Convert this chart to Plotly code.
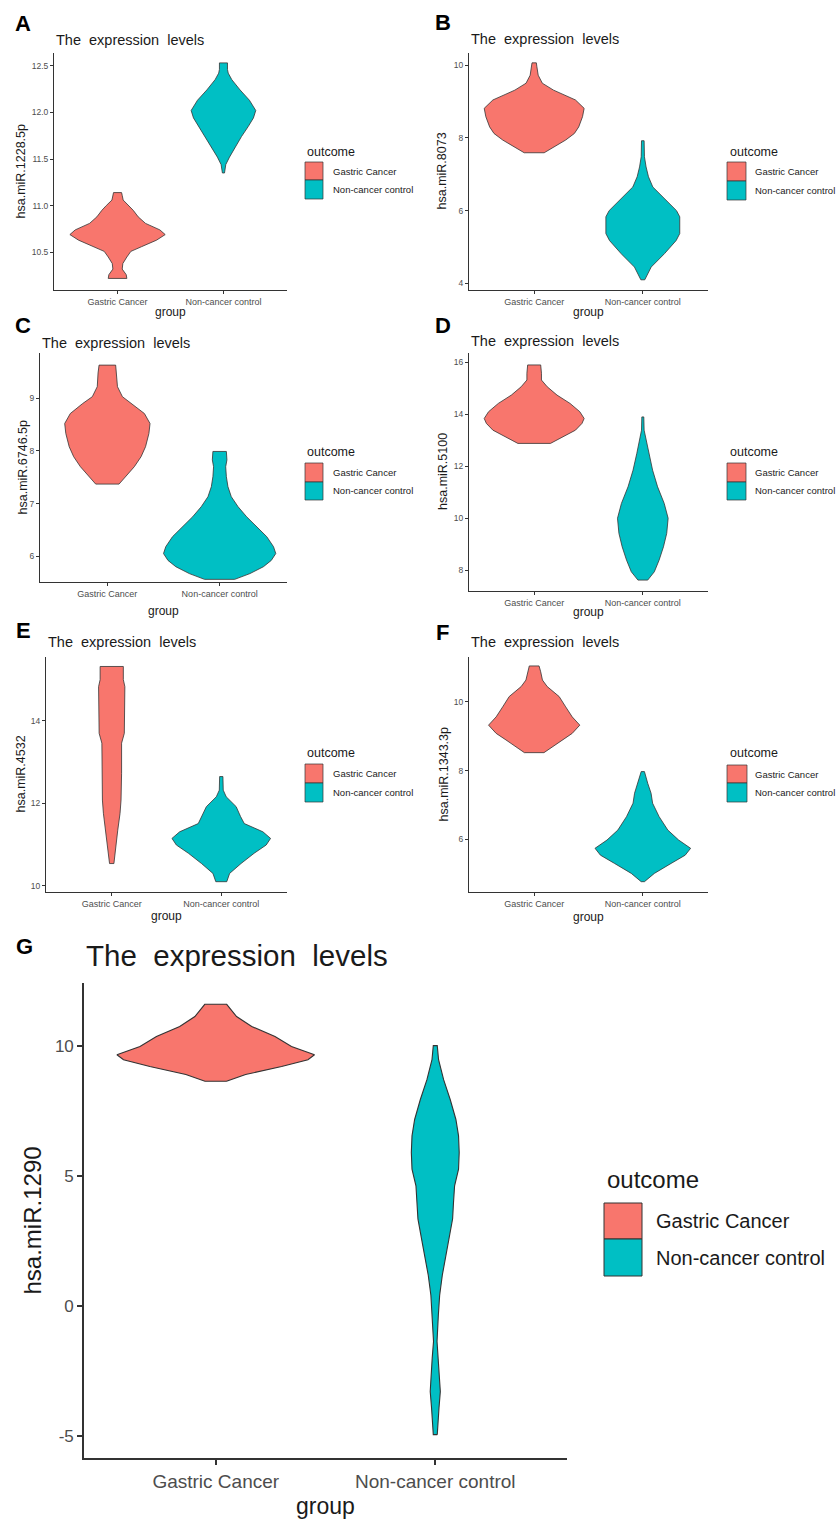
import plotly.graph_objects as go

# ---------------- data (violin density profiles) ----------------
groups = ["Gastric Cancer", "Non-cancer control"]
legend_title = "outcome"
plot_title = "The\u00a0\u00a0expression\u00a0\u00a0levels"

# Panel A  hsa.miR.1228.5p
A_gc_y = [10.22, 10.26, 10.32, 10.38, 10.45, 10.51, 10.56, 10.63, 10.69, 10.74, 10.81, 10.88, 10.95, 11.0, 11.06, 11.11, 11.14]
A_gc_w = [0.088, 0.082, 0.044, 0.05, 0.088, 0.126, 0.226, 0.368, 0.45, 0.40, 0.264, 0.195, 0.148, 0.107, 0.053, 0.044, 0.038]
A_nc_y = [11.35, 11.44, 11.52, 11.63, 11.74, 11.85, 11.94, 12.02, 12.13, 12.24, 12.35, 12.42, 12.46, 12.53]
A_nc_w = [0.01, 0.022, 0.057, 0.11, 0.17, 0.235, 0.283, 0.305, 0.245, 0.157, 0.079, 0.045, 0.038, 0.038]
# Panel B  hsa.miR.8073
B_gc_y = [7.59, 7.75, 7.94, 8.12, 8.30, 8.58, 8.81, 9.04, 9.2, 9.31, 9.5, 9.72, 9.95, 10.06]
B_gc_w = [0.092, 0.18, 0.29, 0.37, 0.41, 0.445, 0.46, 0.38, 0.26, 0.178, 0.075, 0.037, 0.025, 0.02]
B_nc_y = [4.1, 4.45, 4.82, 5.18, 5.37, 5.83, 6.0, 6.38, 6.65, 6.93, 7.2, 7.48, 7.75, 7.92]
B_nc_w = [0.018, 0.077, 0.2, 0.307, 0.34, 0.34, 0.31, 0.18, 0.092, 0.052, 0.03, 0.015, 0.012, 0.012]
# Panel C  hsa.miR.6746.5p
C_gc_y = [7.37, 7.51, 7.70, 7.89, 8.08, 8.33, 8.52, 8.71, 8.9, 9.03, 9.22, 9.48, 9.63]
C_gc_w = [0.104, 0.164, 0.24, 0.30, 0.34, 0.37, 0.38, 0.33, 0.22, 0.134, 0.09, 0.083, 0.074]
C_nc_y = [5.56, 5.67, 5.8, 5.92, 6.05, 6.18, 6.37, 6.56, 6.75, 6.94, 7.13, 7.32, 7.51, 7.7, 7.83, 7.99]
C_nc_w = [0.134, 0.27, 0.39, 0.46, 0.50, 0.48, 0.42, 0.33, 0.24, 0.164, 0.104, 0.074, 0.06, 0.054, 0.065, 0.06]
# Panel D  hsa.miR.5100
D_gc_y = [12.88, 13.14, 13.39, 13.65, 13.84, 14.1, 14.42, 14.74, 15.06, 15.32, 15.58, 15.9]
D_gc_w = [0.15, 0.27, 0.38, 0.44, 0.46, 0.42, 0.33, 0.21, 0.12, 0.067, 0.067, 0.06]
D_nc_y = [7.62, 7.94, 8.39, 8.9, 9.42, 10.0, 10.57, 11.21, 11.85, 12.5, 13.0, 13.39, 13.9]
D_nc_w = [0.045, 0.106, 0.15, 0.19, 0.22, 0.233, 0.197, 0.136, 0.09, 0.055, 0.03, 0.012, 0.009]
# Panel E  hsa.miR.4532
E_gc_y = [10.54, 10.95, 11.35, 11.76, 12.08, 12.73, 13.46, 13.7, 14.27, 14.83, 15.0, 15.32]
E_gc_w = [0.02, 0.036, 0.055, 0.076, 0.085, 0.09, 0.09, 0.115, 0.12, 0.12, 0.106, 0.106]
E_nc_y = [10.1, 10.3, 10.54, 10.79, 10.99, 11.15, 11.31, 11.51, 11.68, 11.92, 12.16, 12.32, 12.65]
E_nc_w = [0.05, 0.076, 0.18, 0.30, 0.41, 0.45, 0.38, 0.21, 0.176, 0.136, 0.045, 0.018, 0.015]
# Panel F  hsa.miR.1343.3p
F_gc_y = [8.52, 8.69, 8.89, 9.08, 9.32, 9.56, 9.85, 10.15, 10.44, 10.63, 10.87, 11.04]
F_gc_w = [0.09, 0.167, 0.26, 0.35, 0.42, 0.35, 0.29, 0.23, 0.12, 0.076, 0.06, 0.045]
F_nc_y = [4.77, 5.01, 5.3, 5.54, 5.74, 5.98, 6.27, 6.66, 7.05, 7.34, 7.63, 7.97]
F_nc_w = [0.015, 0.106, 0.26, 0.39, 0.44, 0.33, 0.23, 0.15, 0.09, 0.076, 0.045, 0.015]
# Panel G  hsa.miR.1290
G_gc_y = [8.66, 8.92, 9.23, 9.49, 9.68, 10.0, 10.38, 10.77, 11.15, 11.62]
G_gc_w = [0.049, 0.136, 0.30, 0.42, 0.45, 0.345, 0.27, 0.164, 0.095, 0.05]
G_nc_y = [-4.93, -4.54, -3.9, -3.27, -2.63, -1.99, -1.35, -0.33, 0.43, 1.2, 2.48, 3.37, 4.0, 4.64, 5.28, 5.92, 6.56, 7.19, 7.96, 8.72, 9.49, 10.03]
G_nc_w = [0.009, 0.011, 0.017, 0.023, 0.018, 0.014, 0.008, 0.014, 0.02, 0.032, 0.06, 0.079, 0.083, 0.088, 0.106, 0.109, 0.106, 0.094, 0.068, 0.038, 0.015, 0.009]

y_labels = {"A": "hsa.miR.1228.5p", "B": "hsa.miR.8073", "C": "hsa.miR.6746.5p",
            "D": "hsa.miR.5100", "E": "hsa.miR.4532", "F": "hsa.miR.1343.3p", "G": "hsa.miR.1290"}
y_ticks = {"A": [10.5, 11.0, 11.5, 12.0, 12.5], "B": [4, 6, 8, 10], "C": [6, 7, 8, 9],
           "D": [8, 10, 12, 14, 16], "E": [10, 12, 14], "F": [6, 8, 10], "G": [-5, 0, 5, 10]}
y_ranges = {"A": [10.096, 12.636], "B": [3.82, 10.33], "C": [5.51, 9.86], "D": [7.2, 16.36],
            "E": [9.85, 15.55], "F": [4.47, 11.3], "G": [-5.83, 12.44]}
profiles = {"A": (A_gc_y, A_gc_w, A_nc_y, A_nc_w), "B": (B_gc_y, B_gc_w, B_nc_y, B_nc_w),
            "C": (C_gc_y, C_gc_w, C_nc_y, C_nc_w), "D": (D_gc_y, D_gc_w, D_nc_y, D_nc_w),
            "E": (E_gc_y, E_gc_w, E_nc_y, E_nc_w), "F": (F_gc_y, F_gc_w, F_nc_y, F_nc_w),
            "G": (G_gc_y, G_gc_w, G_nc_y, G_nc_w)}

# ---------------- layout (pixel geometry of the page) ----------------
W, H = 840, 1521
colors = ["#F8766D", "#00BFC4"]
FONT = "Liberation Sans, Arial, sans-serif"

def px(x):
    return x / W

def py(y):
    return 1 - y / H

panels = {
    "A": (54, 287, 53, 290),
    "B": (469, 708, 53, 290),
    "C": (40, 287, 353, 582),
    "D": (469, 708, 353, 591),
    "E": (46, 287, 657, 892),
    "F": (469, 708, 657, 892),
    "G": (84, 567, 983, 1458),
}
letters = {"A": (23, 23), "B": (443, 22), "C": (23, 325), "D": (443, 325),
           "E": (23, 630), "F": (442, 632), "G": (24, 946)}
title_y = {"A": 40, "B": 39, "C": 343, "D": 341, "E": 642, "F": 642, "G": 955}
ytitle_x = {"A": 21, "B": 442, "C": 22, "D": 443, "E": 20, "F": 443, "G": 32}
xtitle_y = {"A": 312, "B": 312, "C": 611, "D": 612, "E": 916, "F": 917, "G": 1506}
legend_pos = {  # outcome-title left x, title y, key left, key right, key1 top, key split, key2 bottom, label x
    "A": (305, 152, 305, 323, 162, 180, 199, 331),
    "B": (728, 152, 727, 746, 162, 181, 200, 753),
    "C": (305, 452, 305, 323, 463, 482, 500, 331),
    "D": (728, 452, 727, 746, 463, 482, 500, 753),
    "E": (305, 753, 305, 323, 764, 783, 802, 331),
    "F": (728, 753, 727, 747, 765, 783, 802, 753),
    "G": (605, 1179, 604, 642, 1203, 1239, 1276, 654),
}

fig = go.Figure()
annotations = []
shapes = []

for i, name in enumerate(["A", "B", "C", "D", "E", "F", "G"]):
    big = name == "G"
    l, r, t, b = panels[name]
    ax = "" if i == 0 else str(i + 1)
    xa, ya = "x" + ax, "y" + ax
    gy, gw, ny, nw = profiles[name]
    for k, (yy, ww) in enumerate([(gy, gw), (ny, nw)]):
        c = k + 1
        xs = [c + w for w in ww] + [c - w for w in ww[::-1]] + [c + ww[0]]
        ys = list(yy) + list(yy[::-1]) + [yy[0]]
        fig.add_trace(go.Scatter(x=xs, y=ys, mode="lines", fill="toself",
                                 fillcolor=colors[k],
                                 line=dict(color="#333333", width=1.1 if big else 0.8),
                                 xaxis=xa, yaxis=ya, showlegend=False, hoverinfo="skip"))
    tick_fs_y = 17 if big else 8.5
    tick_fs_x = 19 if big else 9
    lw = 1.6 if big else 1
    tv = y_ticks[name]
    tt = ["%.1f" % v for v in tv] if name == "A" else [str(int(v)) for v in tv]
    fig.layout["xaxis" + ax] = dict(
        domain=[px(l), px(r)], range=[0.4, 2.6], anchor=ya,
        tickvals=[1, 2], ticktext=groups, showline=True, linecolor="#333333", linewidth=lw,
        ticks="outside", ticklen=5 if big else 3, tickcolor="#333333", tickwidth=lw,
        showgrid=False, zeroline=False, fixedrange=True,
        tickfont=dict(family=FONT, size=tick_fs_x, color="#4D4D4D"))
    fig.layout["yaxis" + ax] = dict(
        domain=[py(b), py(t)], range=y_ranges[name], anchor=xa,
        tickvals=tv, ticktext=tt,
        showline=True, linecolor="#333333", linewidth=lw,
        ticks="outside", ticklen=5 if big else 3, tickcolor="#333333", tickwidth=lw,
        showgrid=False, zeroline=False, fixedrange=True,
        tickfont=dict(family=FONT, size=tick_fs_y, color="#4D4D4D"))

    lx, ly = letters[name]
    annotations.append(dict(text="<b>%s</b>" % name, x=px(lx), y=py(ly), xref="paper", yref="paper",
                            xanchor="center", yanchor="middle", showarrow=False,
                            font=dict(family=FONT, size=22, color="#000000")))
    annotations.append(dict(text=plot_title, x=px(l), y=py(title_y[name]), xref="paper", yref="paper",
                            xanchor="left", yanchor="middle", showarrow=False,
                            font=dict(family=FONT, size=29.5 if big else 14.5, color="#1A1A1A")))
    annotations.append(dict(text=y_labels[name], x=px(ytitle_x[name]), y=py((t + b) / 2),
                            xref="paper", yref="paper", textangle=-90,
                            xanchor="center", yanchor="middle", showarrow=False,
                            font=dict(family=FONT, size=24 if big else 12.5, color="#1A1A1A")))
    annotations.append(dict(text="group", x=px((l + r) / 2), y=py(xtitle_y[name]),
                            xref="paper", yref="paper",
                            xanchor="center", yanchor="middle", showarrow=False,
                            font=dict(family=FONT, size=23 if big else 12, color="#1A1A1A")))
    tx, ty, kl, kr, k1, km, k2, lab_x = legend_pos[name]
    annotations.append(dict(text=legend_title, x=px(tx), y=py(ty), xref="paper", yref="paper",
                            xanchor="left", yanchor="middle", showarrow=False,
                            font=dict(family=FONT, size=24 if big else 12.5, color="#1A1A1A")))
    for k, (kt, kb) in enumerate([(k1, km), (km, k2)]):
        shapes.append(dict(type="rect", xref="paper", yref="paper",
                           x0=px(kl), x1=px(kr), y0=py(kb), y1=py(kt),
                           fillcolor=colors[k], line=dict(color="#333333", width=1 if big else 0.7)))
        annotations.append(dict(text=groups[k], x=px(lab_x), y=py((kt + kb) / 2),
                                xref="paper", yref="paper", xanchor="left", yanchor="middle",
                                showarrow=False,
                                font=dict(family=FONT, size=20 if big else 9.5, color="#1A1A1A")))

fig.update_layout(width=W, height=H, margin=dict(l=0, r=0, t=0, b=0),
                  paper_bgcolor="white", plot_bgcolor="white", showlegend=False,
                  annotations=annotations, shapes=shapes)
fig.write_html("out.html", config={"displayModeBar": False},
               post_script="document.body.style.margin='0px';document.body.style.padding='0px';")
